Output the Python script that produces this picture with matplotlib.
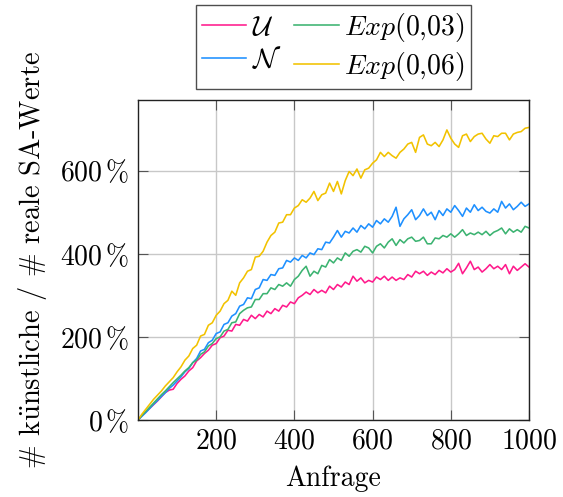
import numpy as np
import matplotlib
matplotlib.use("Agg")
import matplotlib.pyplot as plt

plt.rcParams["font.family"] = ["cmr10", "DejaVu Serif"]
plt.rcParams["mathtext.fontset"] = "cm"
plt.rcParams["axes.formatter.use_mathtext"] = True

# Query index (every 10 requests)
anfrage = list(range(0, 1001, 10))

# Ratio of synthetic to real SA values in percent
uniform = [0, 10, 19, 28, 37, 46, 56, 66, 72, 74,
           88, 98, 106, 118, 126, 142, 150, 160, 168, 180,
           184, 198, 202, 216, 214, 230, 228, 242, 238, 252,
           244, 254, 248, 262, 256, 268, 262, 276, 272, 284,
           280, 294, 300, 308, 302, 314, 306, 312, 306, 322,
           314, 326, 320, 332, 326, 346, 334, 342, 330, 336,
           332, 344, 338, 346, 336, 344, 336, 342, 338, 350,
           344, 358, 352, 358, 348, 356, 350, 360, 354, 364,
           356, 362, 377, 352, 366, 382, 362, 368, 356, 364,
           374, 364, 370, 362, 374, 352, 370, 360, 368, 376,
           368]
normal = [0, 9, 18, 28, 38, 47, 57, 66, 76, 84,
          94, 104, 116, 124, 138, 148, 166, 170, 186, 192,
          208, 212, 230, 234, 250, 256, 274, 278, 294, 292,
          314, 318, 338, 336, 350, 348, 364, 366, 384, 380,
          390, 384, 396, 390, 402, 398, 412, 410, 428, 426,
          440, 456, 440, 454, 450, 462, 452, 468, 460, 472,
          464, 480, 472, 484, 476, 490, 512, 466, 484, 494,
          506, 482, 492, 508, 492, 500, 482, 504, 492, 508,
          500, 516, 504, 490, 510, 500, 518, 504, 512, 502,
          498, 508, 500, 526, 510, 520, 506, 514, 524, 514,
          520]
exp003 = [0, 11, 21, 31, 41, 51, 61, 70, 80, 90,
          99, 108, 118, 126, 138, 144, 158, 164, 178, 184,
          196, 200, 214, 218, 234, 236, 256, 264, 270, 272,
          290, 290, 304, 304, 318, 314, 326, 322, 330, 322,
          338, 346, 360, 370, 346, 358, 352, 372, 368, 386,
          378, 390, 384, 402, 394, 406, 410, 404, 418, 414,
          402, 418, 424, 414, 428, 436, 420, 434, 426, 436,
          440, 430, 432, 440, 424, 424, 438, 436, 444, 440,
          448, 440, 448, 458, 444, 450, 446, 452, 446, 454,
          444, 452, 456, 462, 448, 460, 452, 458, 452, 466,
          462]
exp006 = [0, 14, 26, 38, 50, 60, 70, 82, 92, 102,
          116, 128, 144, 154, 172, 180, 202, 206, 228, 234,
          252, 262, 280, 288, 310, 300, 330, 342, 358, 362,
          392, 394, 406, 428, 444, 452, 474, 476, 494, 494,
          510, 516, 530, 524, 534, 550, 528, 542, 546, 570,
          550, 574, 544, 576, 598, 588, 604, 582, 602, 606,
          618, 626, 644, 634, 644, 636, 630, 644, 652, 664,
          668, 644, 680, 686, 664, 660, 668, 658, 674, 698,
          678, 664, 656, 684, 688, 670, 682, 688, 690, 676,
          666, 684, 682, 690, 690, 674, 688, 692, 694, 702,
          704]

labels = [r"$\mathcal{U}$", r"$\mathcal{N}$", r"$Exp(0{,}03)$", r"$Exp(0{,}06)$"]
colors = ["#ff1a8c", "#1e90ff", "#3cb371", "#f2c200"]
series = [uniform, normal, exp003, exp006]

xticks = [200, 400, 600, 800, 1000]
yticks = [0, 200, 400, 600]

FS = 20

fig = plt.figure(figsize=(5.63, 4.97), dpi=100)
ax = fig.add_axes([0.2451, 0.1549, 0.6945, 0.6439])

for vals, lab, col in zip(series, labels, colors):
    ax.plot(anfrage, vals, color=col, lw=1.15, label=lab)

ax.set_xlim(0, 1000)
ax.set_ylim(0, 770)
ax.set_xticks(xticks)
ax.set_xticklabels([f"${t}$" for t in xticks])
ax.set_yticks(yticks)
ax.set_yticklabels([rf"${t}\,\%$" for t in yticks])
ax.grid(True, color="#c8c8c8", lw=1.0)
ax.set_axisbelow(True)
ax.tick_params(direction="in", length=7, width=0.8, color="#555555",
               top=True, right=True, labelsize=FS, pad=6)
for s in ax.spines.values():
    s.set_linewidth(1.0)
    s.set_color("#222222")

ax.set_xlabel("Anfrage", fontsize=FS, labelpad=8)
ax.set_ylabel(r"# k$\ddot{\mathrm{u}}$nstliche / # reale SA-Werte", fontsize=FS + 0.5, labelpad=8)

leg = ax.legend(loc="lower center", bbox_to_anchor=(0.5, 1.034), ncol=2,
                fontsize=FS, frameon=True, fancybox=False, edgecolor="#222222",
                handlelength=1.6, handletextpad=0.2, columnspacing=0.45,
                labelspacing=0.22, borderpad=0.22, borderaxespad=0.0)
leg.get_frame().set_linewidth(1.0)

fig.savefig("out.png", dpi=100)
